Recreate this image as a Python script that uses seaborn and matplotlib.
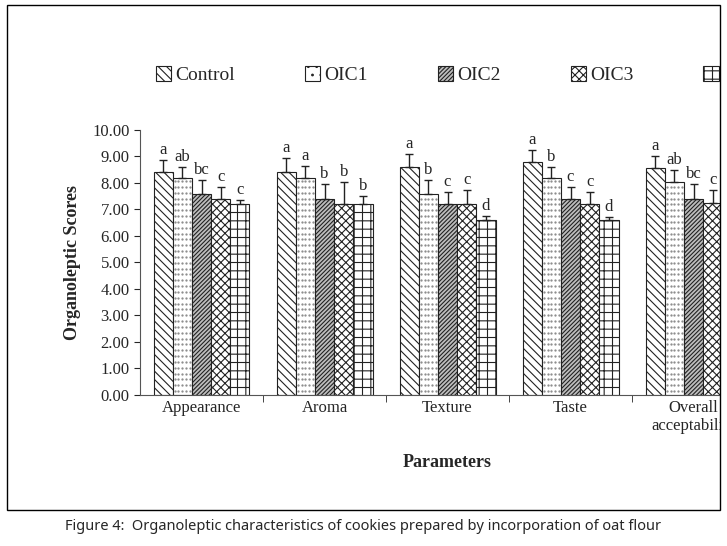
import numpy as np
import pandas as pd
import matplotlib
matplotlib.use("Agg")
import matplotlib.pyplot as plt
import seaborn as sns
from matplotlib.patches import Rectangle

parameters = ["Appearance", "Aroma", "Texture", "Taste", "Overall\nacceptability"]
samples = ["Control", "OIC1", "OIC2", "OIC3", "OIC4"]
control = [8.4, 8.4, 8.6, 8.8, 8.55]
oic1 = [8.2, 8.2, 7.6, 8.2, 8.05]
oic2 = [7.6, 7.4, 7.2, 7.4, 7.4]
oic3 = [7.4, 7.2, 7.2, 7.2, 7.25]
oic4 = [7.2, 7.2, 6.6, 6.6, 7.0]
err_control = [0.45, 0.55, 0.5, 0.45, 0.45]
err_oic1 = [0.4, 0.45, 0.5, 0.4, 0.45]
err_oic2 = [0.5, 0.55, 0.45, 0.45, 0.55]
err_oic3 = [0.45, 0.85, 0.55, 0.45, 0.5]
err_oic4 = [0.15, 0.3, 0.15, 0.1, 0.3]
letters_control = ["a", "a", "a", "a", "a"]
letters_oic1 = ["ab", "a", "b", "b", "ab"]
letters_oic2 = ["bc", "b", "c", "c", "bc"]
letters_oic3 = ["c", "b", "c", "c", "c"]
letters_oic4 = ["c", "b", "d", "d", "c"]

values = [control, oic1, oic2, oic3, oic4]
errors = [err_control, err_oic1, err_oic2, err_oic3, err_oic4]
letters = [letters_control, letters_oic1, letters_oic2, letters_oic3, letters_oic4]

rows = []
for s, vals in zip(samples, values):
    for p, v in zip(parameters, vals):
        rows.append({"Parameter": p, "Sample": s, "Score": v})
df = pd.DataFrame(rows)

sns.set_style("white")
plt.rcParams["font.family"] = ["Liberation Serif", "DejaVu Serif"]
plt.rcParams["hatch.linewidth"] = 0.8

fig = plt.figure(figsize=(7.27, 5.46), dpi=100)
ax = fig.add_axes([0.1926, 0.2766, 0.846, 0.4853])

sns.barplot(data=df, x="Parameter", y="Score", hue="Sample", errorbar=None,
            width=0.78, ax=ax, legend=False)

hatches = ["\\\\\\\\", "", "////////", "xxxx", "++"]
faces = ["white", "white", "#bdbdbd", "white", "white"]
bar_conts = list(ax.containers)
for i, cont in enumerate(bar_conts):
    for j, bar in enumerate(cont):
        bar.set_facecolor(faces[i])
        bar.set_edgecolor("#222222")
        bar.set_hatch(hatches[i])
        bar.set_linewidth(0.8)
        x = bar.get_x() + bar.get_width() / 2
        h = bar.get_height()
        ax.errorbar(x, h, yerr=[[0], [errors[i][j]]], color="#222222",
                    capsize=3, elinewidth=1, capthick=1)
        ax.text(x, h + errors[i][j] + 0.08, letters[i][j], ha="center",
                va="bottom", fontsize=12)
    if i == 1:
        for bar in cont:
            bx, bw, bh = bar.get_x(), bar.get_width(), bar.get_height()
            gx, gy = np.meshgrid(np.linspace(bx + bw * 0.1, bx + bw * 0.9, 5),
                                 np.arange(0.15, bh, 0.22))
            ax.scatter(gx.ravel(), gy.ravel(), s=0.4, color="#888888", zorder=3)

ax.set_ylim(0, 10)
ax.set_xlim(-0.5, 4.5)
ax.set_yticks(np.arange(0, 10.01, 1))
ax.set_yticklabels([f"{t:.2f}" for t in np.arange(0, 10.01, 1)], fontsize=12)
ax.tick_params(axis="x", labelsize=12, length=0)
ax.tick_params(axis="y", left=True, length=4)
ax.set_xticks(np.arange(5) + 0.5, minor=True)
ax.tick_params(axis="x", which="minor", bottom=True, length=5)
for sp in ["top", "right"]:
    ax.spines[sp].set_visible(False)
ax.spines["left"].set_color("#555555")
ax.spines["bottom"].set_color("#555555")
ax.set_xlabel("Parameters", fontsize=13, fontweight="bold", labelpad=14)
ax.set_ylabel("Organoleptic Scores", fontsize=13, fontweight="bold", labelpad=8)

handles = [Rectangle((0, 0), 1, 1, facecolor=faces[i], edgecolor="#222222",
                     hatch=hatches[i] if i != 1 else "..", linewidth=0.8)
           for i in range(5)]
fig.legend(handles, samples, loc="center left", bbox_to_anchor=(0.19, 0.862),
           ncol=5, frameon=False, fontsize=14, columnspacing=3.6,
           handlelength=0.8, handleheight=0.8, handletextpad=0.2)

# white mask right of frame, then the frame itself
fig.patches.append(Rectangle((720 / 727, 0), 1, 1, transform=fig.transFigure,
                             facecolor="white", edgecolor="none", zorder=10))
fig.patches.append(Rectangle((7 / 727, 1 - 510 / 546), 713 / 727, 505 / 546,
                             transform=fig.transFigure, facecolor="none",
                             edgecolor="black", linewidth=1, zorder=11))
fig.text(0.5, 1 - 527 / 546,
         "Figure 4:  Organoleptic characteristics of cookies prepared by incorporation of oat flour",
         ha="center", va="center", fontsize=10.5, fontweight="bold",
         family=["Noto Sans", "DejaVu Sans"])

fig.savefig("out.png", dpi=100)
